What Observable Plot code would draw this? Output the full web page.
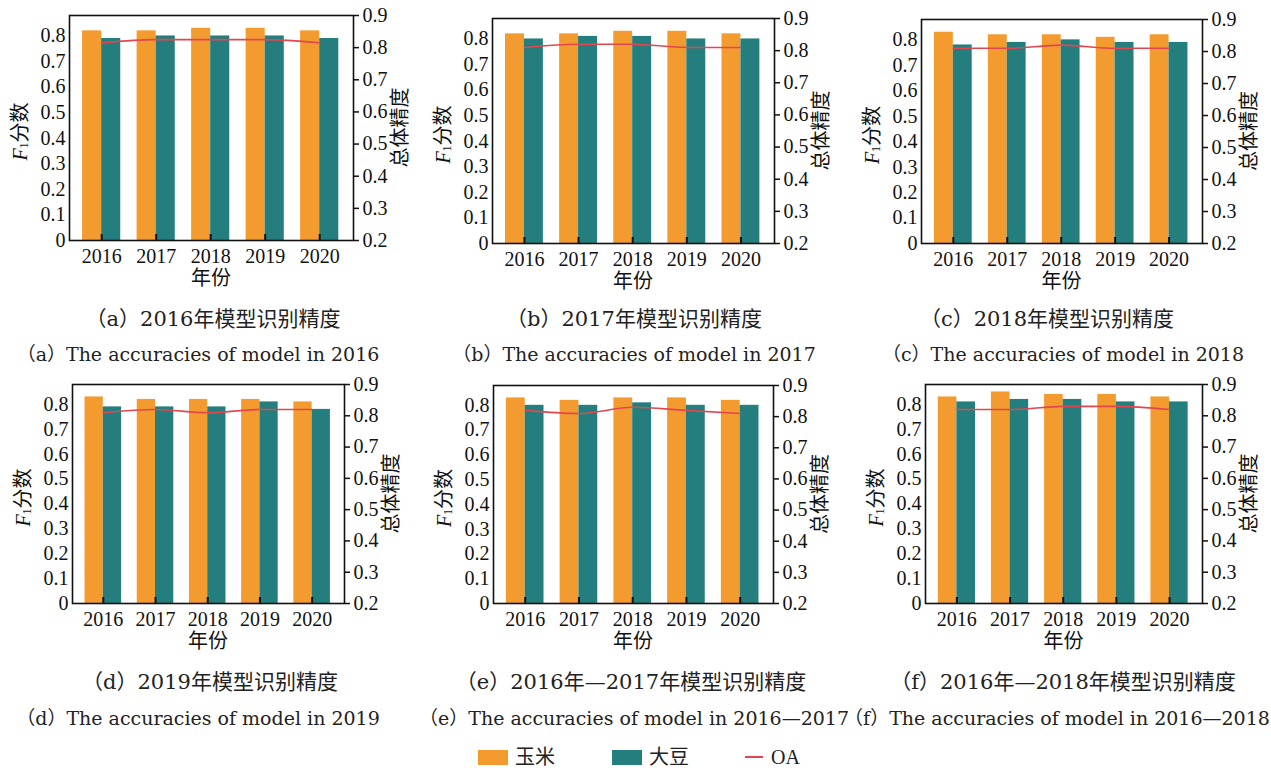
<!DOCTYPE html>
<html><head><meta charset="utf-8">
<script src="https://cdn.jsdelivr.net/npm/d3@7"></script>
<script src="https://cdn.jsdelivr.net/npm/@observablehq/plot@0.6"></script>
<style>
body{margin:0;background:#fff;}
#root{position:relative;width:1271px;height:768px;overflow:hidden;background:#fff;}
.panel{position:absolute;}
.cap{position:absolute;transform:translate(-50%,-50%);white-space:nowrap;font-family:"DejaVu Serif","Noto Sans CJK SC",serif;color:#222;line-height:1.2;}
.zh{font-size:21px;}
.en{font-size:19px;}
.legend{position:absolute;top:746px;left:0;width:1271px;height:22px;font-family:"Liberation Serif","Noto Sans CJK SC",serif;font-size:20px;line-height:20px;color:#222;}
.li{position:absolute;top:0;display:flex;align-items:center;height:22px;}
.sw{display:inline-block;width:30px;height:15px;margin-right:7px;}
.ln{display:inline-block;width:18px;height:2px;margin-right:8px;}
</style></head><body><div id="root"></div>
<script>
// ---- data ----
const years = [2016, 2017, 2018, 2019, 2020];
const cropNames = ["玉米", "大豆"];
const leftTicks = [0, 0.1, 0.2, 0.3, 0.4, 0.5, 0.6, 0.7, 0.8];
const rightTicks = [0.2, 0.3, 0.4, 0.5, 0.6, 0.7, 0.8, 0.9];

const maizeA = [0.82, 0.82, 0.83, 0.83, 0.82];
const soyA   = [0.79, 0.80, 0.80, 0.80, 0.79];
const oaA    = [0.815, 0.825, 0.825, 0.825, 0.815];

const maizeB = [0.82, 0.82, 0.83, 0.83, 0.82];
const soyB   = [0.80, 0.81, 0.81, 0.80, 0.80];
const oaB    = [0.81, 0.82, 0.82, 0.81, 0.81];

const maizeC = [0.83, 0.82, 0.82, 0.81, 0.82];
const soyC   = [0.78, 0.79, 0.80, 0.79, 0.79];
const oaC    = [0.81, 0.81, 0.82, 0.81, 0.81];

const maizeD = [0.83, 0.82, 0.82, 0.82, 0.81];
const soyD   = [0.79, 0.79, 0.79, 0.81, 0.78];
const oaD    = [0.81, 0.82, 0.81, 0.82, 0.82];

const maizeE = [0.83, 0.82, 0.83, 0.83, 0.82];
const soyE   = [0.80, 0.80, 0.81, 0.80, 0.80];
const oaE    = [0.82, 0.81, 0.83, 0.82, 0.81];

const maizeF = [0.83, 0.85, 0.84, 0.84, 0.83];
const soyF   = [0.81, 0.82, 0.82, 0.81, 0.81];
const oaF    = [0.82, 0.82, 0.83, 0.83, 0.82];

const captionsZh = ["（a）2016年模型识别精度", "（b）2017年模型识别精度", "（c）2018年模型识别精度",
                    "（d）2019年模型识别精度", "（e）2016年—2017年模型识别精度", "（f）2016年—2018年模型识别精度"];
const captionsEn = ["（a）The accuracies of model in 2016", "（b）The accuracies of model in 2017", "（c）The accuracies of model in 2018",
                    "（d）The accuracies of model in 2019", "（e）The accuracies of model in 2016—2017", "（f）The accuracies of model in 2016—2018"];

// ---- style / layout ----
const ORANGE = "#F39B2F", TEAL = "#237E7D", RED = "#E2474F";
const Y_MAX = 0.88, OA_MIN = 0.2, OA_MAX = 0.9;
const toY = v => (v - OA_MIN) / (OA_MAX - OA_MIN) * Y_MAX;
const fromY = y => OA_MIN + y / Y_MAX * (OA_MAX - OA_MIN);
const ML = 70, MR = 70, MT = 15, MB = 55;
const BW = 0.35;
const FS = 20;

const layout = [
  {x: 69, y: 15, w: 284, h: 225, cz: [213, 320], ce: [198, 354]},
  {x: 492, y: 18, w: 282, h: 225, cz: [634, 320], ce: [634, 354]},
  {x: 921, y: 19, w: 281, h: 224, cz: [1047, 320], ce: [1063, 354]},
  {x: 72, y: 384, w: 272, h: 219, cz: [210, 683], ce: [198, 718]},
  {x: 493, y: 385, w: 280, h: 218, cz: [631, 683], ce: [634, 718]},
  {x: 925, y: 384, w: 277, h: 219, cz: [1063, 683], ce: [1057, 718]}
];
const panels = [
  [maizeA, soyA, oaA], [maizeB, soyB, oaB], [maizeC, soyC, oaC],
  [maizeD, soyD, oaD], [maizeE, soyE, oaE], [maizeF, soyF, oaF]
];

const root = document.getElementById("root");

function makePanel(maize, soy, oa, L) {
  const rows = years.flatMap((yr, i) => [
    {year: yr, crop: cropNames[0], v: maize[i], a: yr - BW, b: yr},
    {year: yr, crop: cropNames[1], v: soy[i], a: yr, b: yr + BW}
  ]);
  const oaRows = years.map((yr, i) => ({year: yr, oa: oa[i]}));
  const svg = Plot.plot({
    width: L.w + ML + MR, height: L.h + MT + MB,
    marginLeft: ML, marginRight: MR, marginTop: MT, marginBottom: MB,
    x: {domain: [2015.41, 2020.62]},
    y: {domain: [0, Y_MAX]},
    color: {domain: cropNames, range: [ORANGE, TEAL]},
    style: {fontFamily: "'Liberation Serif', serif", fontSize: FS + "px", color: "#111", background: "transparent", overflow: "visible"},
    marks: [
      Plot.rectY(rows, {x1: "a", x2: "b", y: "v", fill: "crop"}),
      Plot.line(oaRows, {x: "year", y: d => toY(d.oa), stroke: RED, strokeWidth: 1.6, curve: "monotone-x"}),
      Plot.frame({stroke: "#111", strokeWidth: 1.6}),
      Plot.axisX(years, {tickSize: 6, dy: -6, strokeWidth: 2, tickFormat: () => "", label: null}),
      Plot.axisX(years, {tickSize: 0, tickPadding: 8, fontSize: FS, tickFormat: d => String(d), label: null}),
      Plot.axisY(leftTicks, {tickSize: 0, tickPadding: 4, fontSize: FS, tickFormat: d => String(d), label: null}),
      Plot.axisY(rightTicks.map(toY), {anchor: "right", tickSize: 5, strokeWidth: 1.5, tickPadding: 4, fontSize: FS,
        tickFormat: d => fromY(d).toFixed(1), label: null})
    ]
  });
  const s = d3.select(svg);
  const ff = "'Liberation Serif','Noto Sans CJK SC',serif";
  const lt = s.append("text")
    .attr("transform", `translate(${ML - 49},${MT + L.h / 2 + 4}) rotate(-90)`)
    .attr("text-anchor", "middle").attr("dominant-baseline", "central")
    .attr("font-family", ff).attr("font-size", 20).attr("fill", "#111");
  lt.append("tspan").attr("font-style", "italic").text("F");
  lt.append("tspan").attr("font-size", 12).attr("dy", 4).text("1");
  lt.append("tspan").attr("dy", -4).text("分数");
  s.append("text")
    .attr("transform", `translate(${ML + L.w + 47},${MT + L.h / 2}) rotate(-90)`)
    .attr("text-anchor", "middle").attr("dominant-baseline", "central")
    .attr("font-family", ff).attr("font-size", 20).attr("fill", "#111").text("总体精度");
  s.append("text")
    .attr("x", ML + L.w / 2).attr("y", MT + L.h + 38)
    .attr("text-anchor", "middle").attr("dominant-baseline", "central")
    .attr("font-family", ff).attr("font-size", 20).attr("fill", "#111").text("年份");
  svg.classList.add("panel");
  svg.style.left = (L.x - ML) + "px";
  svg.style.top = (L.y - MT) + "px";
  return svg;
}

panels.forEach((p, i) => {
  const L = layout[i];
  root.appendChild(makePanel(p[0], p[1], p[2], L));
  const z = document.createElement("div");
  z.className = "cap zh"; z.textContent = captionsZh[i];
  z.style.left = L.cz[0] + "px"; z.style.top = L.cz[1] + "px";
  root.appendChild(z);
  const e = document.createElement("div");
  e.className = "cap en"; e.textContent = captionsEn[i];
  e.style.left = L.ce[0] + "px"; e.style.top = L.ce[1] + "px";
  root.appendChild(e);
});

// legend
const leg = document.createElement("div");
leg.className = "legend";
const legendItems = [
  {name: cropNames[0], color: ORANGE, kind: "sw", x: 478},
  {name: cropNames[1], color: TEAL, kind: "sw", x: 612},
  {name: "OA", color: RED, kind: "ln", x: 745}
];
legendItems.forEach(it => {
  const d = document.createElement("div");
  d.className = "li"; d.style.left = it.x + "px";
  const sw = document.createElement("span");
  sw.className = it.kind; sw.style.background = it.color;
  d.appendChild(sw);
  const t = document.createElement("span"); t.textContent = it.name;
  d.appendChild(t);
  leg.appendChild(d);
});
root.appendChild(leg);
</script></body></html>
